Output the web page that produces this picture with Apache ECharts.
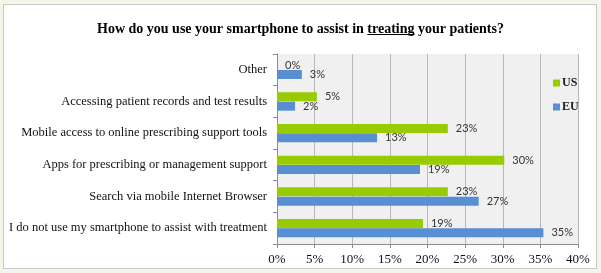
<!DOCTYPE html>
<html>
<head>
<meta charset="utf-8">
<script src="https://cdn.jsdelivr.net/npm/echarts@6/dist/echarts.min.js"></script>
<style>
html, body { margin: 0; padding: 0; background: #f3f7ea; }
#frame {
    position: absolute; left: 3px; top: 4px; width: 592px; height: 263px;
    background: #fff; border: 1px solid #c9c9c9;
}
#chart { position: absolute; left: 0; top: 0; width: 601px; height: 273px; }
</style>
</head>
<body>
<div id="frame"></div>
<div id="chart"></div>
<script>
// bottom-to-top order (category axis starts at the bottom)
var categories = [
    'I do not use my smartphone to assist with treatment',
    'Search via mobile Internet Browser',
    'Apps for prescribing or management support',
    'Mobile access to online prescribing support tools',
    'Accessing patient records and test results',
    'Other'
];
var usValues = [19.4, 22.7, 30.2, 22.7, 5.3, 0];
var euValues = [35.4, 26.8, 19.0, 13.3, 2.4, 3.3];
var xTicks = [0, 5, 10, 15, 20, 25, 30, 35, 40];

var titleFont = 'bold 14px "Liberation Serif"';
var t1 = 'How do you use your smartphone to assist in ';
var t2 = 'treating';
var t3 = ' your patients?';

var ctx = document.createElement('canvas').getContext('2d');
ctx.font = titleFont;
var w1 = ctx.measureText(t1).width;
var w2 = ctx.measureText(t2).width;
var wAll = ctx.measureText(t1 + t2 + t3).width;
var titleCx = 300.5;
var ulX = titleCx - wAll / 2 + w1;

var chart = echarts.init(document.getElementById('chart'));

var labelStyle = {
    show: true,
    position: 'right',
    distance: 8,
    color: '#333',
    fontFamily: 'Lato',
    fontSize: 11,
    formatter: function (p) { return Math.round(p.value) + '%'; }
};

chart.setOption({
    animation: false,
    title: {
        text: t1 + t2 + t3,
        left: 'center',
        top: 17,
        textStyle: { fontFamily: 'Liberation Serif', fontWeight: 'bold', fontSize: 14, color: '#000' }
    },
    graphic: [{
        type: 'rect',
        shape: { x: ulX, y: 34, width: w2, height: 1 },
        style: { fill: '#000' }
    }],
    legend: {
        data: ['US', 'EU'],
        orient: 'vertical',
        left: 548,
        top: 72,
        itemWidth: 7,
        itemHeight: 7,
        itemGap: 12,
        icon: 'rect',
        textStyle: { fontFamily: 'Liberation Serif', fontSize: 12, fontWeight: 'bold', color: '#222', padding: [0, 0, 0, -3] }
    },
    grid: {
        left: 277,
        right: 23,
        top: 54,
        bottom: 29,
        show: true,
        backgroundColor: '#f0f0f0',
        borderWidth: 0
    },
    xAxis: {
        type: 'value',
        min: 0,
        max: 40,
        interval: 5,
        axisLine: { show: true, lineStyle: { color: '#8c8c8c' } },
        axisTick: { show: true, length: 4, lineStyle: { color: '#8c8c8c' } },
        splitLine: { show: true, lineStyle: { color: '#b8b8b8' } },
        axisLabel: {
            color: '#111',
            fontFamily: 'Liberation Serif',
            fontSize: 13,
            margin: 9,
            formatter: function (v) { return xTicks.indexOf(v) >= 0 ? v + '%' : ''; }
        }
    },
    yAxis: {
        type: 'category',
        data: categories,
        axisLine: { show: true, lineStyle: { color: '#8c8c8c' } },
        axisTick: { show: true, length: 4, lineStyle: { color: '#8c8c8c' } },
        axisLabel: {
            color: '#111',
            fontFamily: 'Liberation Serif',
            fontSize: 12.5,
            margin: 10
        }
    },
    series: [
        {
            name: 'US',
            type: 'bar',
            data: usValues,
            barWidth: 9,
            barGap: '4%',
            itemStyle: { color: '#99cc00' },
            label: labelStyle
        },
        {
            name: 'EU',
            type: 'bar',
            data: euValues,
            barWidth: 9,
            barGap: '4%',
            itemStyle: { color: '#578fd2' },
            label: labelStyle
        }
    ]
});
</script>
</body>
</html>
